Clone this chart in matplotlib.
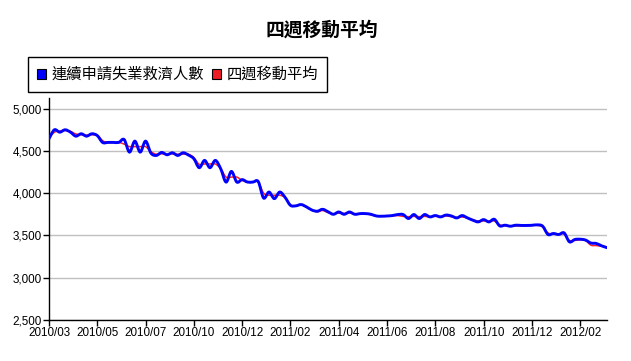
import numpy as np
import matplotlib
matplotlib.use("Agg")
import matplotlib.pyplot as plt
from matplotlib.path import Path
from matplotlib.patches import PathPatch, Patch

plt.rcParams['font.family'] = ['Liberation Sans', 'Noto Sans CJK TC', 'DejaVu Sans']

title = "四週移動平均"
series_names = ["連續申請失業救濟人數", "四週移動平均"]
tick_labels = ["2010/03", "2010/05", "2010/07", "2010/10", "2010/12", "2011/02",
               "2011/04", "2011/06", "2011/08", "2011/10", "2011/12", "2012/02"]
tick_step = 9

claims = [4643, 4749, 4721, 4749, 4721, 4674, 4702, 4674, 4702, 4680,
          4599, 4600, 4600, 4600, 4634, 4485, 4615, 4485, 4615, 4473,
          4446, 4481, 4454, 4477, 4446, 4477, 4450, 4407, 4301, 4387,
          4301, 4387, 4289, 4131, 4257, 4131, 4160, 4131, 4131, 4137,
          3942, 4013, 3935, 4013, 3950, 3856, 3850, 3865, 3837, 3800,
          3786, 3809, 3780, 3750, 3777, 3750, 3777, 3750, 3758, 3758,
          3750, 3730, 3727, 3730, 3735, 3747, 3747, 3700, 3747, 3700,
          3747, 3719, 3735, 3719, 3741, 3730, 3707, 3735, 3707, 3680,
          3660, 3687, 3660, 3691, 3613, 3621, 3609, 3621, 3618, 3618,
          3620, 3625, 3610, 3511, 3523, 3511, 3530, 3424, 3452, 3455,
          3445, 3410, 3405, 3377, 3355]

avg4 = [4660, 4720, 4735, 4740, 4730, 4700, 4690, 4685, 4690, 4685,
        4620, 4600, 4600, 4600, 4580, 4550, 4550, 4550, 4550, 4490,
        4460, 4465, 4460, 4465, 4460, 4462, 4460, 4420, 4340, 4345,
        4345, 4345, 4290, 4190, 4190, 4190, 4150, 4130, 4131, 4130,
        4000, 3975, 3975, 3975, 3950, 3860, 3850, 3860, 3835, 3800,
        3780, 3795, 3770, 3755, 3765, 3760, 3765, 3755, 3755, 3755,
        3745, 3730, 3727, 3728, 3732, 3735, 3725, 3722, 3725, 3722,
        3725, 3722, 3726, 3724, 3730, 3722, 3712, 3718, 3705, 3685,
        3670, 3672, 3668, 3670, 3625, 3615, 3610, 3612, 3615, 3616,
        3618, 3620, 3600, 3530, 3515, 3515, 3515, 3440, 3440, 3450,
        3440, 3385, 3380, 3372, 3365]


def smooth_path(xs, ys):
    pts = np.column_stack([xs, ys]).astype(float)
    n = len(pts)
    verts = [pts[0]]
    codes = [Path.MOVETO]
    for i in range(n - 1):
        p0 = pts[max(i - 1, 0)]
        p1 = pts[i]
        p2 = pts[i + 1]
        p3 = pts[min(i + 2, n - 1)]
        c1 = p1 + (p2 - p0) / 6.0
        c2 = p2 - (p3 - p1) / 6.0
        verts += [c1, c2, p2]
        codes += [Path.CURVE4] * 3
    return Path(verts, codes)


fig = plt.figure(figsize=(6.31, 3.61), dpi=100)
ax = fig.add_axes([49 / 631, 1 - 320 / 361, 558 / 631, 222 / 361])

x = np.arange(len(claims))
ax.add_patch(PathPatch(smooth_path(x, avg4), facecolor='none',
                       edgecolor='#FF2020', lw=1.1, zorder=3))
ax.add_patch(PathPatch(smooth_path(x, claims), facecolor='none',
                       edgecolor='#0000FF', lw=2.1, zorder=4,
                       capstyle='round', joinstyle='round'))

ax.set_xlim(0, len(claims) - 1)
ax.set_ylim(2500, 5125)
ax.set_yticks([2500, 3000, 3500, 4000, 4500, 5000])
ax.yaxis.set_major_formatter(matplotlib.ticker.FuncFormatter(lambda v, p: f"{int(v):,}"))
ax.set_xticks(np.arange(0, len(claims), tick_step)[:len(tick_labels)])
ax.set_xticklabels(tick_labels)
ax.grid(axis='y', color='#C0C0C0', lw=1)
ax.set_axisbelow(True)
for s in ['top', 'right']:
    ax.spines[s].set_visible(False)
for s in ['left', 'bottom']:
    ax.spines[s].set_color('black')
    ax.spines[s].set_linewidth(1)
ax.tick_params(axis='both', labelsize=8.4, colors='black', length=4, width=1, pad=1)

fig.text(0.51, 1 - 30 / 361, title, ha='center', va='center', fontsize=13.5,
         fontweight='bold', family=['Noto Sans CJK TC', 'DejaVu Sans'])

handles = [Patch(facecolor='#0000FF', edgecolor='black', lw=0.8),
           Patch(facecolor='#EE1C24', edgecolor='black', lw=0.8)]
leg = fig.legend(handles, series_names, loc='upper left',
                 bbox_to_anchor=(28 / 631, 1 - 57 / 361), ncol=2,
                 prop={'family': ['Noto Sans CJK TC', 'DejaVu Sans'], 'size': 11},
                 frameon=True, fancybox=False, edgecolor='black', framealpha=1,
                 handlelength=0.6, handleheight=0.6, handletextpad=0.35,
                 columnspacing=0.5, borderpad=0.6, borderaxespad=0)
leg.get_frame().set_linewidth(1)

fig.savefig("out.png", dpi=100)
